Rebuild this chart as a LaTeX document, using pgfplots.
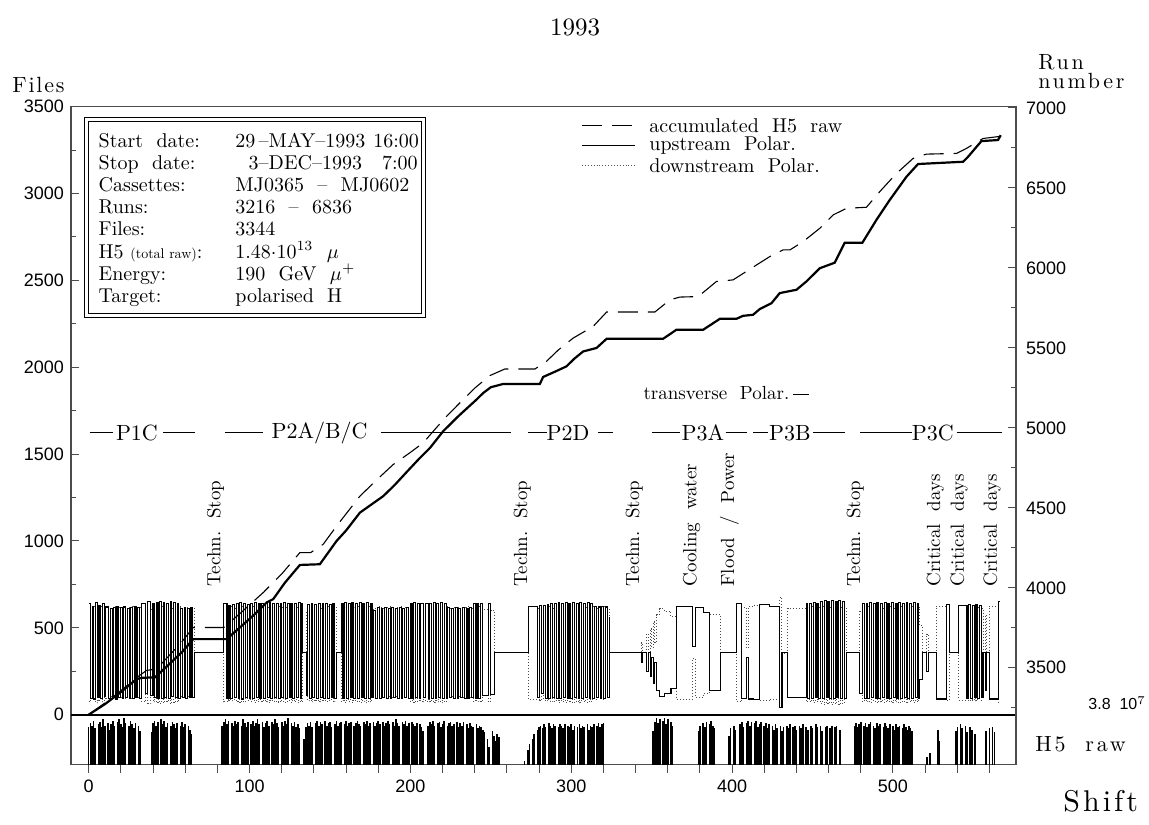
\documentclass[border=0pt]{standalone}
\usepackage{fontspec}
\setmainfont{lmroman10-regular.otf}[BoldFont=lmroman10-bold.otf,ItalicFont=lmroman10-italic.otf]
\newfontfamily\tickfont{Liberation Sans}
\usepackage{pgfplots}
\usepackage{pgfplotstable}
\pgfplotsset{compat=1.18}
\newcommand\fs[1]{\fontsize{#1}{#1}\selectfont}
\newcommand\lsp[1]{\addfontfeatures{LetterSpace=#1}}

% polarisation (upstream), const plot; downstream = 714 - upstream
\pgfplotstableread{
x y
0 640
1.1 95
2.2 625
3.2 90
4.3 645
5.5 100
6.4 630
7.6 92
8.5 640
9.8 105
10.7 620
12.5 95
13.4 610
14.6 100
15.5 615
16.7 90
17.6 620
18.7 98
19.8 615
20.8 92
21.9 620
23 100
24 612
25.1 95
26.2 618
27.3 92
28.3 620
29.4 100
30.5 615
31.7 95
32.8 640
35.5 120
36.8 650
38.6 110
40 640
41 100
42 645
43.1 95
44.2 650
45.2 92
46.3 645
47.4 100
48.5 640
49.5 95
50.6 650
51.7 105
52.8 645
53.9 98
55 640
56 92
57.1 610
58.2 100
59.3 615
60.3 95
61.4 610
62.5 102
63.6 615
64.7 100
66 357
84 640
86 95
87.2 630
88.3 92
89.4 635
90.6 100
91.7 640
92.9 95
94 645
95.1 90
96.3 640
97.4 100
98.5 635
99.7 95
100.8 640
102 92
103.1 645
104.2 100
105.4 640
106.5 95
107.6 638
108.8 92
109.9 640
111 98
112.2 645
113.3 95
114.4 640
115.6 100
116.7 642
117.8 92
119 640
120.1 98
121.2 645
122.4 95
123.5 640
124.6 100
125.8 642
126.9 92
128 640
129.2 98
130.3 645
131.4 95
132.5 640
133 357
135.5 110
136 635
137.1 95
138.3 640
139.4 98
140.5 635
141.7 92
142.8 640
143.9 100
145.1 638
146.2 95
147.3 640
148.5 92
149.6 635
150.7 100
151.9 640
153 95
154 357
157 640
158.1 95
159.2 645
160.4 92
161.5 640
162.6 100
163.7 645
164.9 95
166 640
167.1 92
168.2 645
169.4 100
170.5 640
171.6 95
172.7 645
173.9 92
175 640
176.1 98
177.3 600
178.4 95
179.5 615
180.6 92
181.8 612
182.9 100
184 615
185.2 95
186.3 610
187.4 92
188.5 615
189.7 100
190.8 612
191.9 95
193.1 615
194.2 92
195.3 610
196.5 98
197.6 615
198.7 95
199.9 640
201 92
202.1 645
203.3 100
204.4 640
205.5 95
206.5 640
208 100
209.5 640
211 95
212 640
213.1 95
214.2 645
215.4 92
216.5 640
217.6 100
218.8 645
219.9 95
221 640
222.2 92
223.3 615
224.4 100
225.6 612
226.7 95
227.8 615
229 92
230.1 612
231.2 98
232.4 615
233.5 95
234.6 612
235.8 92
236.9 615
238 100
239.2 640
240.3 95
241.4 640
242.6 92
243.7 640
244.8 110
248.5 640
250 115
252.5 357
273.5 625
279 100
280.5 630
281.6 120
282.7 630
283.9 95
285 635
286.1 92
287.3 640
288.4 100
289.5 640
290.7 95
291.8 645
292.9 92
294.1 640
295.2 100
296.3 645
297.5 95
298.6 640
299.7 92
300.9 645
302 100
303.1 640
304.3 95
305.4 645
306.5 92
307.7 640
308.8 98
309.9 645
311.1 95
312.2 640
313.3 92
314.5 625
315.6 100
316.7 620
317.9 95
319 625
320.1 92
321.3 620
322.4 100
323.5 560
324 357
343.5 300
344.5 357
347 250
348 357
349 220
350 330
351 180
352 300
353 140
355 105
358 120
362 150
365.5 625
375.6 390
377.5 615
382 590
386 140
393 357
402.7 640
405.8 95
409 330
410 90
413 85
417.2 635
423 625
429.6 40
431 360
434.5 100
446 640
447.1 95
448.2 640
449.4 92
450.5 645
451.6 100
452.8 640
453.9 95
455 650
456.2 92
457.3 655
458.4 100
459.6 650
460.7 95
461.8 655
463 92
464.1 650
465.2 100
466.4 655
467.5 95
468.6 650
469.8 92
470.9 357
479.4 120
481 640
482.1 95
483.3 640
484.4 92
485.5 645
486.7 100
487.8 640
488.9 95
490.1 645
491.2 92
492.3 640
493.5 100
494.6 645
495.7 95
496.9 640
498 92
499.1 645
500.3 100
501.4 640
502.5 95
503.7 645
504.8 92
505.9 640
507.1 100
508.2 645
509.3 95
510.5 640
511.6 92
512.7 645
513.9 100
515 640
516.1 95
516.6 200
518.6 357
521 250
522 357
527 90
533 635
535 357
541 630
546 95
547.1 635
548.2 92
549.4 630
550.5 100
551.6 635
552.8 95
553.9 630
555 100
556 357
557.5 140
558 357
560 90
565.5 650
566.3 650
}\pol

% H5 raw beam intensity (units of 10^7)
\pgfplotstableread{
x y
0 2.9
1 3.2
2 3.0
3 3.4
4 2.8
6 3.1
7 3.3
8 2.9
9 3.5
10 3.0
12 3.2
13 2.7
14 3.1
15 3.4
16 3.0
18 3.3
19 3.5
20 3.1
21 2.9
22 3.6
23 3.2
25 3.0
26 3.4
27 3.1
28 2.8
29 3.2
31 3.0
32 2.6
39 2.5
40 3.2
41 3.4
42 3.0
43 3.3
45 3.5
46 3.1
47 3.4
48 2.9
49 3.2
51 3.0
52 3.3
53 3.1
54 2.8
55 3.2
57 3.0
58 3.3
59 2.9
60 3.1
62 3.0
63 2.7
64 2.4
83 3.0
84 3.3
85 3.5
86 3.1
87 3.4
89 3.2
90 3.0
91 3.4
92 3.1
93 3.3
95 3.0
96 3.5
97 3.2
98 2.9
99 3.3
101 3.1
102 3.4
103 3.0
104 3.2
105 3.5
106 3.1
108 3.3
109 2.9
110 3.2
111 3.4
112 3.0
114 3.3
115 3.1
116 3.5
117 3.2
118 2.9
120 3.3
121 3.0
122 3.4
123 3.1
124 3.6
126 3.2
127 3.0
128 3.3
129 2.9
130 3.1
131 2.8
134 2.0
135 2.9
136 3.2
137 3.0
138 3.3
139 2.9
141 3.2
142 3.4
143 3.0
144 3.3
145 3.1
147 3.4
148 3.0
149 3.2
150 3.3
151 2.9
153 3.1
154 3.4
155 3.0
156 3.2
157 3.3
159 3.1
160 3.4
161 3.0
162 3.2
163 3.3
165 3.0
166 3.2
167 3.4
168 3.1
169 3.0
171 3.3
172 3.1
173 3.4
174 3.0
175 3.2
177 3.3
178 3.0
179 3.2
180 3.4
181 3.1
183 3.3
184 3.0
185 3.2
186 3.4
187 3.1
189 3.3
190 3.0
191 3.5
192 3.2
193 3.0
195 3.3
196 3.1
197 3.4
198 3.0
199 3.2
201 3.3
202 3.1
203 3.0
204 3.2
206 3.1
207 2.9
208 2.6
211 3.0
212 3.3
213 3.1
214 3.4
215 3.0
217 3.2
218 3.3
219 2.9
220 3.1
221 3.4
223 3.0
224 3.2
225 3.3
226 3.0
227 3.1
229 3.3
230 2.9
231 3.2
232 3.0
233 3.3
235 3.1
236 2.8
237 3.2
238 3.0
239 2.9
241 3.1
242 2.8
243 3.0
244 2.9
245 2.7
246 2.5
248 2.0
249 1.4
251 2.6
252 2.2
253 1.8
254 2.4
255 2.1
271 0.3
273 1.1
274 1.6
276 2.0
277 2.4
279 2.7
280 2.9
281 3.0
282 2.8
283 3.1
284 2.9
286 3.2
287 3.0
288 2.8
289 3.1
290 3.0
292 2.9
293 3.1
294 3.0
295 2.8
296 3.1
298 3.0
299 2.9
300 3.1
301 2.7
302 3.0
304 2.9
305 3.1
306 2.8
307 3.0
308 2.9
310 3.1
311 2.7
312 3.0
313 2.9
314 3.1
316 3.0
317 3.2
318 2.9
319 3.1
320 3.2
351 2.6
352 3.3
353 3.6
354 3.2
355 3.5
357 3.4
358 3.6
359 3.1
360 3.5
362 3.3
363 3.0
379 2.6
380 3.0
382 3.2
383 2.9
384 3.3
386 3.1
387 3.4
388 3.0
389 2.8
398 2.2
399 2.8
401 3.0
402 2.7
405 3.1
406 3.3
407 2.9
409 3.2
410 3.4
411 3.0
412 3.3
414 3.2
415 3.4
416 2.9
417 3.1
418 3.3
420 3.0
421 3.2
422 2.8
423 3.1
425 3.0
426 2.7
427 3.1
428 2.8
430 3.0
431 2.6
432 2.9
434 3.0
435 2.8
436 3.1
438 2.9
439 3.0
440 2.7
442 3.0
443 2.8
444 3.1
446 2.9
447 2.7
449 3.0
450 2.8
452 3.1
453 2.9
455 3.0
456 2.6
458 2.9
459 3.0
461 2.8
462 3.0
464 2.9
465 3.0
467 2.7
476 3.0
477 3.2
478 2.9
479 3.1
480 3.3
482 3.0
483 3.2
484 2.9
485 3.1
486 3.3
488 3.0
489 2.8
490 3.2
491 3.0
492 3.1
494 2.9
495 3.2
496 3.0
497 2.8
498 3.1
500 3.0
501 2.7
502 3.1
503 2.9
504 3.0
506 2.8
507 3.1
508 2.9
509 2.7
510 3.0
511 2.8
512 2.6
521 0.6
523 0.9
528 2.7
529 1.8
539 2.6
540 2.9
542 3.1
543 2.8
545 3.0
546 2.5
548 2.9
549 2.7
551 2.4
558 2.6
560 2.8
562 2.9
563 2.5
}\hfive

\begin{document}
\begin{tikzpicture}
\useasboundingbox (-35.5pt,-30pt) rectangle (539pt,382.35pt);
\begin{axis}[
  at={(0,0)}, anchor=south west, scale only axis,
  width=472.5pt, height=329pt,
  xmin=-11, xmax=576.5, ymin=-288, ymax=3500,
  axis line style={black!70, line width=0.6pt},
  xtick={0,20,...,560},
  xticklabels={0,,,,,100,,,,,200,,,,,300,,,,,400,,,,,500,,,},
  ytick={0,500,...,3500}, minor ytick={250,750,...,3250},
  xtick pos=left, ytick pos=left,
  xtick align=outside, ytick align=inside,
  major tick length=4pt, minor tick length=2.5pt,
  tick style={black!70, line width=0.5pt},
  ticklabel style={font=\tickfont\fs{9}},
  /pgf/number format/assume math mode=true,
  /pgf/number format/1000 sep={},
  clip mode=individual,
]
\draw[black, line width=1pt] (axis cs:-11,0) -- (axis cs:576.5,0);
\addplot[const plot, black!70, densely dotted, line width=0.5pt] table[x=x, y expr=714-\thisrow{y}] {\pol};
\addplot[const plot, black, line width=0.55pt] table[x=x, y=y] {\pol};
% accumulated H5 raw
\addplot[black, line width=0.55pt, dash pattern=on 10pt off 5pt] coordinates {
(0,0) (15,100) (30,215) (36,255) (42,262) (50,340) (58,420) (65,502) (84,502)
(95,590) (108.5,703) (120,810) (131.3,933) (138,933) (145.8,981) (154.1,1086)
(168.6,1258) (180,1360) (189.3,1440) (200,1510) (208,1565) (215,1640) (222.5,1718)
(232.8,1814) (240,1880) (249.4,1952) (258.7,1990) (277.4,1990) (284.6,2034)
(292,2100) (301.2,2168) (313.6,2235) (322,2318) (352,2318) (361.3,2388)
(367.5,2404) (378.9,2407) (390.3,2494) (400.6,2503) (415.2,2589) (423.4,2637)
(431.7,2676) (436,2676) (444.1,2723) (454.5,2800) (462.8,2877) (471.1,2915)
(483.5,2921) (491.8,3011) (502.2,3116) (512.5,3202) (520.8,3227) (539.5,3231)
(545.7,3260) (556,3317) (566.5,3329)};
% accumulated files
\addplot[black, line width=1.1pt] coordinates {
(0,0) (10,60) (20,130) (29.8,205) (33,212) (41.2,215) (50,290) (58,360) (65,435)
(85.8,435) (95,510) (104,585) (110.6,646) (114.7,665) (122,760) (131.3,862)
(143.7,866) (154.1,1000) (160,1060) (168.6,1163) (175,1205) (183.1,1258)
(190,1320) (198,1400) (206,1479) (212.2,1536) (220.4,1632) (230,1720)
(241.1,1814) (245.3,1852) (250,1885) (257.7,1904) (280.5,1904) (282.5,1944)
(290,1975) (297,2005) (302,2050) (307.4,2091) (315.7,2111) (322,2164)
(357.1,2164) (365.4,2216) (382,2216) (392.4,2279) (402.7,2279) (406.8,2296)
(413,2302) (417.2,2335) (424.5,2369) (429.6,2427) (440,2446) (446.2,2494)
(454.5,2570) (463.8,2602) (470,2717) (481,2717) (489.7,2848) (498,2963)
(508.4,3097) (515.6,3170) (543.6,3183) (546.7,3212) (555,3302) (565.3,3308)
(567,3336)};
% run period labels
\draw[black, line width=0.5pt] (axis cs:0.8,1622) -- (axis cs:15.1,1622);
\draw[black, line width=0.5pt] (axis cs:46.2,1622) -- (axis cs:66,1622);
\draw[black, line width=0.5pt] (axis cs:84.7,1622) -- (axis cs:108.3,1622);
\draw[black, line width=0.5pt] (axis cs:181.9,1622) -- (axis cs:262.7,1622);
\draw[black, line width=0.5pt] (axis cs:273,1622) -- (axis cs:285,1622);
\draw[black, line width=0.5pt] (axis cs:316.8,1622) -- (axis cs:326,1622);
\draw[black, line width=0.5pt] (axis cs:350,1622) -- (axis cs:367.5,1622);
\draw[black, line width=0.5pt] (axis cs:396,1622) -- (axis cs:409,1622);
\draw[black, line width=0.5pt] (axis cs:413,1622) -- (axis cs:422,1622);
\draw[black, line width=0.5pt] (axis cs:450,1622) -- (axis cs:470,1622);
\draw[black, line width=0.5pt] (axis cs:479.4,1622) -- (axis cs:511.7,1622);
\draw[black, line width=0.5pt] (axis cs:539.6,1622) -- (axis cs:567.6,1622);
\node[font=\fs{11}, inner sep=0] at (axis cs:30,1622) {P1C};
\node[font=\fs{11}, inner sep=0] at (axis cs:143.5,1622) {P2A/B/C};
\node[font=\fs{11}, inner sep=0] at (axis cs:298,1622) {P2D};
\node[font=\fs{11}, inner sep=0] at (axis cs:381.8,1622) {P3A};
\node[font=\fs{11}, inner sep=0] at (axis cs:436,1622) {P3B};
\node[font=\fs{11}, inner sep=0] at (axis cs:524.8,1622) {P3C};
\node[font=\fs{9.5}, anchor=base east, inner sep=0] at (axis cs:435.8,1814) {transverse\ \ Polar.};
\draw[black, line width=0.5pt] (axis cs:438,1845) -- (axis cs:448,1845);
% events
\node[font=\fs{9.5}, rotate=90, anchor=west, inner sep=0] at (axis cs:78.8,736) {Techn.\ \ Stop};
\node[font=\fs{9.5}, rotate=90, anchor=west, inner sep=0] at (axis cs:269.6,736) {Techn.\ \ Stop};
\node[font=\fs{9.5}, rotate=90, anchor=west, inner sep=0] at (axis cs:339.2,736) {Techn.\ \ Stop};
\node[font=\fs{9.5}, rotate=90, anchor=west, inner sep=0] at (axis cs:374.8,736) {Cooling\ \ water};
\node[font=\fs{9.5}, rotate=90, anchor=west, inner sep=0] at (axis cs:398.3,736) {Flood\ \ /\ \ Power};
\node[font=\fs{9.5}, rotate=90, anchor=west, inner sep=0] at (axis cs:476.6,736) {Techn.\ \ Stop};
\node[font=\fs{9.5}, rotate=90, anchor=west, inner sep=0] at (axis cs:526.3,736) {Critical\ \ days};
\node[font=\fs{9.5}, rotate=90, anchor=west, inner sep=0] at (axis cs:541.2,736) {Critical\ \ days};
\node[font=\fs{9.5}, rotate=90, anchor=west, inner sep=0] at (axis cs:561.7,736) {Critical\ \ days};
\end{axis}

% right axis (run number)
\begin{axis}[
  at={(0,0)}, anchor=south west, scale only axis,
  width=472.5pt, height=329pt,
  xmin=-11, xmax=576.5, ymin=2894, ymax=7008,
  axis x line=none, axis y line*=right,
  axis line style={black!70, line width=0.6pt},
  ytick={3500,4000,...,7000}, minor ytick={3250,3750,...,6750},
  ytick align=inside,
  major tick length=4pt, minor tick length=2.5pt,
  tick style={black!70, line width=0.5pt},
  ticklabel style={font=\tickfont\fs{9}, xshift=1.5pt},
  /pgf/number format/assume math mode=true,
  /pgf/number format/1000 sep={},
]
\addplot[draw=none] coordinates {(0,5000)};
\end{axis}

% H5 raw strip
\begin{axis}[
  at={(0,0)}, anchor=south west, scale only axis,
  width=472.5pt, height=24.65pt,
  xmin=-11, xmax=576.5, ymin=0, ymax=3.8,
  hide axis, clip=true,
]
\addplot[ycomb, black, line width=0.8pt] table[x=x,y=y] {\hfive};
\end{axis}

% info box
\draw[black, line width=0.45pt, double, double distance=1.3pt] (7.85pt,224.5pt) rectangle (176.15pt,322.5pt);
\begin{scope}[every node/.style={anchor=base west, inner sep=0, font=\fs{10}}]
\node at (13.65pt,308.5pt) {Start\ \ date:};
\node at (82pt,308.5pt) {29\,--MAY--1993\hspace{4pt}16:00};
\node at (13.65pt,297.5pt) {Stop\ \ date:};
\node at (82pt,297.5pt) {\phantom{2}\,3--DEC--1993\hspace{10pt}7:00};
\node at (13.65pt,286.4pt) {Cassettes:};
\node at (82pt,286.4pt) {MJ0365\ \ --\ \ MJ0602};
\node at (13.65pt,275.4pt) {Runs:};
\node at (82pt,275.4pt) {3216\ \ --\ \ 6836};
\node at (13.65pt,264.4pt) {Files:};
\node at (82pt,264.4pt) {3344};
\node at (13.65pt,253.3pt) {H5\ {\fs{7}(total raw)}:};
\node at (82pt,253.3pt) {$1.48{\cdot}10^{13}$\ \ $\mu$};
\node at (13.65pt,242.3pt) {Energy:};
\node at (82pt,242.3pt) {190\ \ GeV\ \ $\mu^{+}$};
\node at (13.65pt,231.3pt) {Target:};
\node at (82pt,231.3pt) {polarised\ \ H};
\end{scope}

% legend
\draw[black, line width=0.55pt, dash pattern=on 10pt off 5pt] (255.5pt,319.5pt) -- (282pt,319.5pt);
\draw[black, line width=0.45pt] (255.5pt,309.5pt) -- (282pt,309.5pt);
\draw[black!65, densely dotted, line width=0.45pt] (255.5pt,299.5pt) -- (282pt,299.5pt);
\begin{scope}[every node/.style={anchor=west, inner sep=0, font=\fs{10}}]
\node at (289pt,319.5pt) {accumulated\ \ H5\ \ raw};
\node at (289pt,309.5pt) {upstream\ \ Polar.};
\node at (289pt,299.5pt) {downstream\ \ Polar.};
\end{scope}

% titles and outer labels
\node[font=\fs{12.5}, anchor=base, inner sep=0] at (252pt,364.5pt) {1993};
\node[font=\fs{11}, anchor=base west, inner sep=0] at (-29.5pt,336pt) {\lsp{8}Files};
\node[font=\fs{11}, anchor=base west, inner sep=0] at (483.5pt,347.5pt) {\lsp{12}Run};
\node[font=\fs{11}, anchor=base west, inner sep=0] at (483.5pt,338pt) {\lsp{12}number};
\node[font=\tickfont\fs{8}, anchor=base west, inner sep=0] at (508.5pt,27.5pt) {3.8\ \ 10$^{7}$};
\node[font=\fs{11}, anchor=base west, inner sep=0] at (482pt,6.5pt) {\lsp{12}H5\ \ raw};
\node[font=\fs{15}, anchor=base west, inner sep=0] at (496pt,-23.5pt) {\lsp{10}Shift};
\end{tikzpicture}
\end{document}
